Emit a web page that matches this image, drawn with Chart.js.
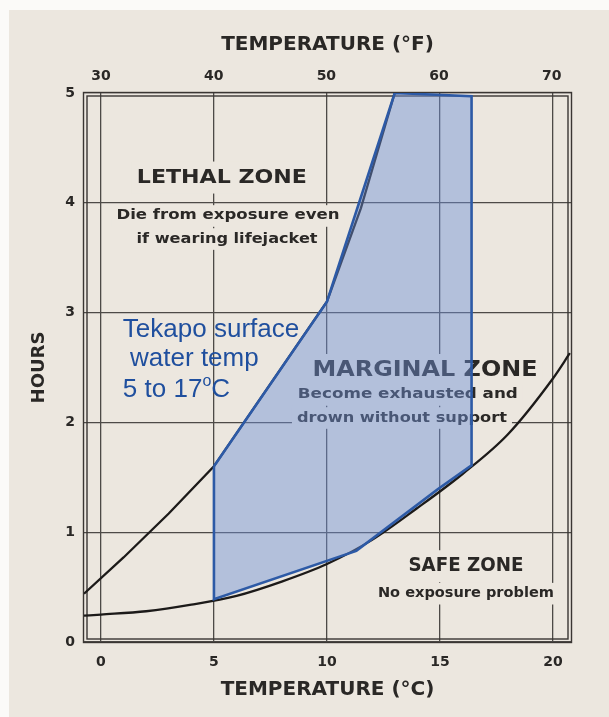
<!DOCTYPE html>
<html>
<head>
<meta charset="utf-8">
<script src="https://cdn.jsdelivr.net/npm/chart.js@4.4.1/dist/chart.umd.min.js"></script>
<style>
  html, body { margin: 0; padding: 0; background: #ece7df; }
  #wrap { width: 609px; height: 717px; }
</style>
</head>
<body>
<div id="wrap"><canvas id="chart" width="609" height="717"></canvas></div>
<script>
// tick labels
const celsiusTicks = [0, 5, 10, 15, 20];
const fahrenheitTicks = [30, 40, 50, 60, 70];
const hourTicks = [0, 1, 2, 3, 4, 5];

// lethal / marginal boundary (°C, hours)
const lethalX = [-0.75, 1, 3, 5, 10, 11.5, 13];
const lethalY = [0.44, 0.77, 1.17, 1.6, 3.1, 3.95, 5.0];

// marginal / safe boundary
const safeX = [-0.75, 0, 2, 4, 6, 8, 10, 12, 14, 16, 18, 20, 20.75];
const safeY = [0.24, 0.25, 0.28, 0.34, 0.42, 0.55, 0.71, 0.93, 1.22, 1.53, 1.89, 2.4, 2.63];

// Tekapo 5-17 °C band, upper and lower edge
const shadeTopX = [5, 10, 13, 16.4];
const shadeTopY = [1.6, 3.1, 5.0, 4.97];
const shadeBottomX = [5, 11.3, 14.9, 16.4];
const shadeBottomY = [0.39, 0.83, 1.39, 1.61];

const PAPER = '#ece7df';
const INK = '#2a2826';
const GRID = '#4d4a47';
const BLUE = '#2d5aa6';

const pts = (xs, ys) => xs.map((x, i) => ({ x: x, y: ys[i] }));
const outline = pts(shadeTopX, shadeTopY)
  .concat(pts(shadeBottomX, shadeBottomY).reverse())
  .concat([{ x: shadeTopX[0], y: shadeTopY[0] }]);

// printed notes on the chart (centre in data units)
const notes = [
  { text: 'LETHAL ZONE', x: 5.35, y: 4.23, size: 20, width: 170 },
  { text: 'Die from exposure even', x: 5.62, y: 3.88, size: 13.5, width: 223 },
  { text: 'if wearing lifejacket', x: 5.58, y: 3.67, size: 13.5, width: 181 },
  { text: 'MARGINAL ZONE', x: 14.34, y: 2.47, size: 21, width: 225 },
  { text: 'Become exhausted and', x: 13.58, y: 2.25, size: 13.5, width: 220 },
  { text: 'drown without support', x: 13.32, y: 2.04, size: 13.5, width: 210 },
  { text: 'SAFE ZONE', x: 16.15, y: 0.69, size: 20, width: 115 },
  { text: 'No exposure problem', x: 16.15, y: 0.44, size: 13.5, width: 176 }
];

function fitText(ctx, text, cx, cy, size, width, box) {
  ctx.font = 'bold ' + size + 'px "DejaVu Sans"';
  const w = ctx.measureText(text).width;
  if (box) {
    ctx.fillStyle = PAPER;
    ctx.fillRect(cx - width / 2 - 5, cy - size * 0.8, width + 10, size * 1.6);
  }
  ctx.save();
  ctx.translate(cx, cy);
  ctx.scale(width / w, 1);
  ctx.fillStyle = INK;
  ctx.textAlign = 'center';
  ctx.textBaseline = 'middle';
  ctx.fillText(text, 0, 0);
  ctx.restore();
}

const paperPlugin = {
  id: 'paper',
  beforeDraw(chart) {
    const ctx = chart.ctx;
    ctx.save();
    ctx.fillStyle = PAPER;
    ctx.fillRect(0, 0, chart.width, chart.height);
    ctx.fillStyle = '#fbfaf8';
    ctx.fillRect(0, 0, chart.width, 10);
    ctx.fillRect(0, 0, 9, chart.height);
    ctx.restore();
  },
  beforeDatasetsDraw(chart) {
    const ctx = chart.ctx;
    const a = chart.chartArea;
    const sx = chart.scales.x, sy = chart.scales.y;
    ctx.save();
    // double frame
    ctx.strokeStyle = '#3a3633';
    ctx.lineWidth = 1.4;
    ctx.strokeRect(a.left - 0.5, a.top - 0.5, a.right - a.left + 1, a.bottom - a.top + 1);
    ctx.strokeRect(a.left + 3, a.top + 3, a.right - a.left - 6, a.bottom - a.top - 6);
    notes.forEach(n => {
      fitText(ctx, n.text, sx.getPixelForValue(n.x), sy.getPixelForValue(n.y), n.size, n.width, true);
    });
    ctx.restore();
  },
  afterDatasetsDraw(chart) {
    const ctx = chart.ctx;
    const sx = chart.scales.x, sy = chart.scales.y;
    const left = sx.getPixelForValue(0.97);
    ctx.save();
    ctx.fillStyle = '#1f4f9e';
    ctx.textBaseline = 'middle';
    ctx.textAlign = 'left';
    ctx.font = '26px "Liberation Sans"';
    ctx.fillText('Tekapo surface', left, sy.getPixelForValue(2.84));
    ctx.fillText(' water temp', left, sy.getPixelForValue(2.58));
    const y3 = sy.getPixelForValue(2.3);
    let x = left;
    ctx.fillText('5 to 17', x, y3);
    x += ctx.measureText('5 to 17').width;
    ctx.font = '16px "Liberation Sans"';
    ctx.fillText('o', x, y3 - 8);
    x += ctx.measureText('o').width;
    ctx.font = '26px "Liberation Sans"';
    ctx.fillText('C', x, y3);
    ctx.restore();
  }
};

const tickFont = { family: 'DejaVu Sans', weight: 'bold', size: 14 };
const titleFont = { family: 'DejaVu Sans', weight: 'bold', size: 20, lineHeight: 1.2 };

new Chart(document.getElementById('chart'), {
  type: 'scatter',
  data: {
    datasets: [
      {
        label: 'Tekapo outline',
        data: outline,
        showLine: true,
        borderColor: BLUE,
        borderWidth: 2.6,
        pointRadius: 0,
        fill: false,
        order: 0
      },
      {
        label: 'Tekapo top',
        data: pts(shadeTopX, shadeTopY),
        showLine: true,
        borderWidth: 0,
        borderColor: 'rgba(0,0,0,0)',
        pointRadius: 0,
        backgroundColor: 'rgba(110,145,215,0.45)',
        fill: '+1',
        order: 1
      },
      {
        label: 'Tekapo bottom',
        data: pts(shadeBottomX, shadeBottomY),
        showLine: true,
        borderWidth: 0,
        borderColor: 'rgba(0,0,0,0)',
        pointRadius: 0,
        fill: false,
        order: 1
      },
      {
        label: 'Lethal limit',
        data: pts(lethalX, lethalY),
        showLine: true,
        borderColor: '#1c1a19',
        borderWidth: 2.3,
        pointRadius: 0,
        tension: 0,
        fill: false,
        order: 2
      },
      {
        label: 'Safe limit',
        data: pts(safeX, safeY),
        showLine: true,
        borderColor: '#1c1a19',
        borderWidth: 2.3,
        pointRadius: 0,
        cubicInterpolationMode: 'monotone',
        fill: false,
        order: 2
      }
    ]
  },
  options: {
    responsive: false,
    animation: false,
    devicePixelRatio: 1,
    layout: { padding: 0 },
    plugins: { legend: { display: false }, tooltip: { enabled: false } },
    scales: {
      x: {
        type: 'linear',
        position: 'bottom',
        min: -0.75,
        max: 20.8,
        afterBuildTicks: s => { s.ticks = celsiusTicks.map(v => ({ value: v })); },
        afterFit: s => { s.height = 75; },
        grid: { color: GRID, lineWidth: 1.3, drawTicks: false },
        border: { display: false },
        ticks: { padding: 12, color: INK, font: tickFont, maxRotation: 0 },
        title: { display: true, text: 'TEMPERATURE (°C)', color: INK, font: titleFont, padding: { top: 0, bottom: 15 } }
      },
      x2: {
        type: 'linear',
        position: 'top',
        min: 28.5,
        max: 71.7,
        afterBuildTicks: s => { s.ticks = fahrenheitTicks.map(v => ({ value: v })); },
        afterFit: s => { s.height = 93; },
        grid: { display: false, drawTicks: false },
        border: { display: false },
        ticks: { padding: 8, color: INK, font: tickFont, maxRotation: 0 },
        title: { display: true, text: 'TEMPERATURE (°F)', color: INK, font: titleFont, padding: { top: 33, bottom: 0 } }
      },
      y: {
        type: 'linear',
        position: 'left',
        min: 0,
        max: 5,
        afterBuildTicks: s => { s.ticks = hourTicks.map(v => ({ value: v })); },
        afterFit: s => { s.width = 84; },
        grid: { color: GRID, lineWidth: 1.3, drawTicks: false },
        border: { display: false },
        ticks: { padding: 9, color: INK, font: tickFont },
        title: { display: true, text: 'HOURS', color: INK, font: { family: 'DejaVu Sans', weight: 'bold', size: 18, lineHeight: 1.2 }, padding: { top: 29, bottom: 0 } }
      },
      y2: {
        type: 'linear',
        position: 'right',
        min: 0,
        max: 5,
        afterFit: s => { s.width = 38; },
        grid: { display: false, drawTicks: false },
        border: { display: false },
        ticks: { display: false }
      }
    }
  },
  plugins: [paperPlugin]
});
</script>
</body>
</html>
